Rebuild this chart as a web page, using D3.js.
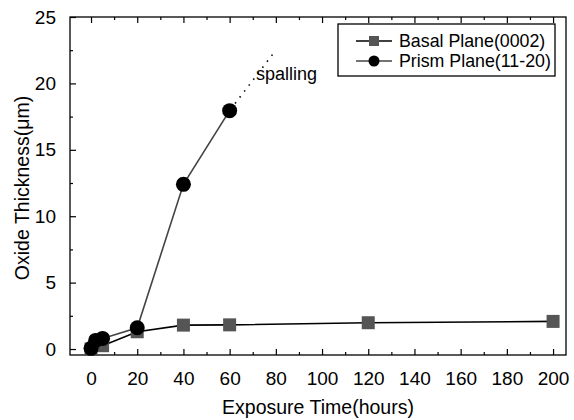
<!DOCTYPE html>
<html><head><meta charset="utf-8">
<script src="https://cdn.jsdelivr.net/npm/d3@7"></script>
<style>body{margin:0;background:#fff}svg{display:block;font-family:Arial,"Liberation Sans",sans-serif}</style>
</head><body>
<svg id="c" width="574" height="420"></svg>
<script>
const basalTime = [0, 5, 20, 40, 60, 120, 200];
const basalThick = [0.0, 0.25, 1.3, 1.8, 1.82, 1.98, 2.08];
const prismTime = [0, 2, 5, 20, 40, 60];
const prismThick = [0.05, 0.65, 0.8, 1.6, 12.4, 17.95];
const spallTime = [60, 80];
const spallThick = [17.95, 22.5];
const xTicks = [0, 20, 40, 60, 80, 100, 120, 140, 160, 180, 200];
const yTicks = [0, 5, 10, 15, 20, 25];
const seriesNames = ["Basal Plane(0002)", "Prism Plane(11-20)"];

const svg = d3.select("#c");
const L = 70, R = 566, T = 17, B = 355;
const x = d3.scaleLinear().domain([-9.1, 205.6]).range([L, R]);
const y = d3.scaleLinear().domain([-0.45, 25]).range([B, T]);

// frame
svg.append("rect").attr("x", L).attr("y", T).attr("width", R - L).attr("height", B - T)
  .attr("fill", "none").attr("stroke", "#000").attr("stroke-width", 1.3);

const xMinor = d3.range(10, 200, 20);
const yMinor = d3.range(2.5, 25, 5);
// bottom axis
const gx = svg.append("g").attr("transform", `translate(0,${B})`)
  .call(d3.axisBottom(x).tickValues(xTicks).tickSize(-6).tickPadding(17).tickFormat(d3.format("d")));
gx.select(".domain").remove();
gx.selectAll("text").attr("font-size", 19).attr("fill", "#000").attr("dy", "0.71em");
svg.append("g").attr("transform", `translate(0,${B})`)
  .call(d3.axisBottom(x).tickValues(xMinor).tickSize(-3).tickFormat(""))
  .select(".domain").remove();
// top axis ticks
svg.append("g").attr("transform", `translate(0,${T})`)
  .call(d3.axisTop(x).tickValues(xTicks).tickSize(-6).tickFormat("")).select(".domain").remove();
svg.append("g").attr("transform", `translate(0,${T})`)
  .call(d3.axisTop(x).tickValues(xMinor).tickSize(-3).tickFormat("")).select(".domain").remove();
// left axis
const gy = svg.append("g").attr("transform", `translate(${L},0)`)
  .call(d3.axisLeft(y).tickValues(yTicks).tickSize(-6).tickPadding(14).tickFormat(d3.format("d")));
gy.select(".domain").remove();
gy.selectAll("text").attr("font-size", 19).attr("fill", "#000");
svg.append("g").attr("transform", `translate(${L},0)`)
  .call(d3.axisLeft(y).tickValues(yMinor).tickSize(-3).tickFormat("")).select(".domain").remove();
svg.selectAll(".tick line").attr("stroke", "#000").attr("stroke-width", 1.2);

// titles
svg.append("text").attr("x", 318).attr("y", 414).attr("text-anchor", "middle")
  .attr("font-size", 19.5).text("Exposure Time(hours)");
svg.append("text").attr("transform", "translate(29,188) rotate(-90)").attr("text-anchor", "middle")
  .attr("font-size", 19.5).text("Oxide Thickness(\u03bcm)");

const line = d3.line().x(d => x(d[0])).y(d => y(d[1]));
const basal = basalTime.map((t, i) => [t, basalThick[i]]);
const prism = prismTime.map((t, i) => [t, prismThick[i]]);
const spall = spallTime.map((t, i) => [t, spallThick[i]]);

svg.append("path").datum(basal).attr("d", line).attr("fill", "none").attr("stroke", "#000").attr("stroke-width", 1.6);
svg.append("path").datum(prism).attr("d", line).attr("fill", "none").attr("stroke", "#444").attr("stroke-width", 1.6);
svg.append("path").datum(spall).attr("d", line).attr("fill", "none").attr("stroke", "#000")
  .attr("stroke-width", 1.6).attr("stroke-dasharray", "1.5,6").attr("stroke-dashoffset", -9);

const sq = 13;
svg.selectAll(".sq").data(basal).enter().append("rect")
  .attr("x", d => x(d[0]) - sq / 2).attr("y", d => y(d[1]) - sq / 2)
  .attr("width", sq).attr("height", sq).attr("fill", "#555");
svg.selectAll(".ci").data(prism).enter().append("circle")
  .attr("cx", d => x(d[0])).attr("cy", d => y(d[1])).attr("r", 7.5).attr("fill", "#000");

svg.append("text").attr("x", 256).attr("y", 80).attr("font-size", 18).text("spalling");

// legend
const lg = svg.append("g");
lg.append("rect").attr("x", 338).attr("y", 24).attr("width", 217).attr("height", 52)
  .attr("fill", "#fff").attr("stroke", "#000").attr("stroke-width", 1.3);
const ly = [41, 61];
lg.append("line").attr("x1", 356).attr("x2", 392).attr("y1", ly[0]).attr("y2", ly[0]).attr("stroke", "#000").attr("stroke-width", 1.6);
lg.append("rect").attr("x", 369).attr("y", ly[0] - 5).attr("width", 10).attr("height", 10).attr("fill", "#555");
lg.append("line").attr("x1", 356).attr("x2", 392).attr("y1", ly[1]).attr("y2", ly[1]).attr("stroke", "#444").attr("stroke-width", 1.6);
lg.append("circle").attr("cx", 374).attr("cy", ly[1]).attr("r", 5.5).attr("fill", "#000");
lg.selectAll(".lt").data(seriesNames).enter().append("text")
  .attr("x", 399).attr("y", (d, i) => ly[i]).attr("dy", "0.35em").attr("font-size", 17.8).text(d => d);
</script>
</body></html>
